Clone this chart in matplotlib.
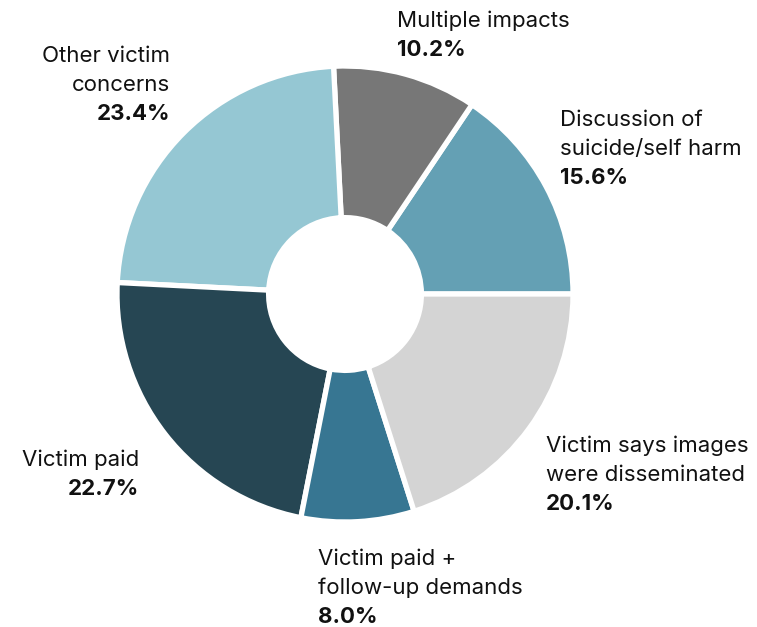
import matplotlib.pyplot as plt

# impact categories, counter-clockwise from 3 o'clock
labels = ['Discussion of\nsuicide/self harm', 'Multiple impacts', 'Other victim\nconcerns',
          'Victim paid', 'Victim paid +\nfollow-up demands', 'Victim says images\nwere disseminated']
shares = [15.6, 10.2, 23.4, 22.7, 8.0, 20.1]
colors = ['#64a0b4', '#777777', '#95c7d3', '#264653', '#377692', '#d4d4d4']

# first-line baseline (pixels from top-left) and alignment of each label
label_pos = [(560, 126, 'left'), (397, 27, 'left'), (170, 62, 'right'),
             (139, 466, 'right'), (318, 565, 'left'), (546, 452, 'left')]

W, H = 757, 627
fig = plt.figure(figsize=(W / 100, H / 100), dpi=100)
plt.rcParams['font.family'] = ['Inter', 'DejaVu Sans']

cx, cy, r = 345, 294, 228
ax = fig.add_axes([(cx - r) / W, 1 - (cy + r) / H, 2 * r / W, 2 * r / H])
ax.pie(shares, colors=colors, startangle=0, counterclock=True, radius=1,
       wedgeprops=dict(width=0.665, edgecolor='white', linewidth=3.8))
ax.set_xlim(-1, 1)
ax.set_ylim(-1, 1)
ax.set_aspect('equal')
ax.axis('off')

line_h = 29
for lab, val, (px, py, ha) in zip(labels, shares, label_pos):
    lines = lab.split('\n') + [f'{val:.1f}%']
    for i, line in enumerate(lines):
        bold = i == len(lines) - 1
        fig.text(px / W, 1 - (py + i * line_h) / H, line, ha=ha, va='baseline',
                 fontsize=16, fontweight='bold' if bold else 'normal',
                 color='#111111')

fig.savefig('out.png', dpi=100, facecolor='white')
